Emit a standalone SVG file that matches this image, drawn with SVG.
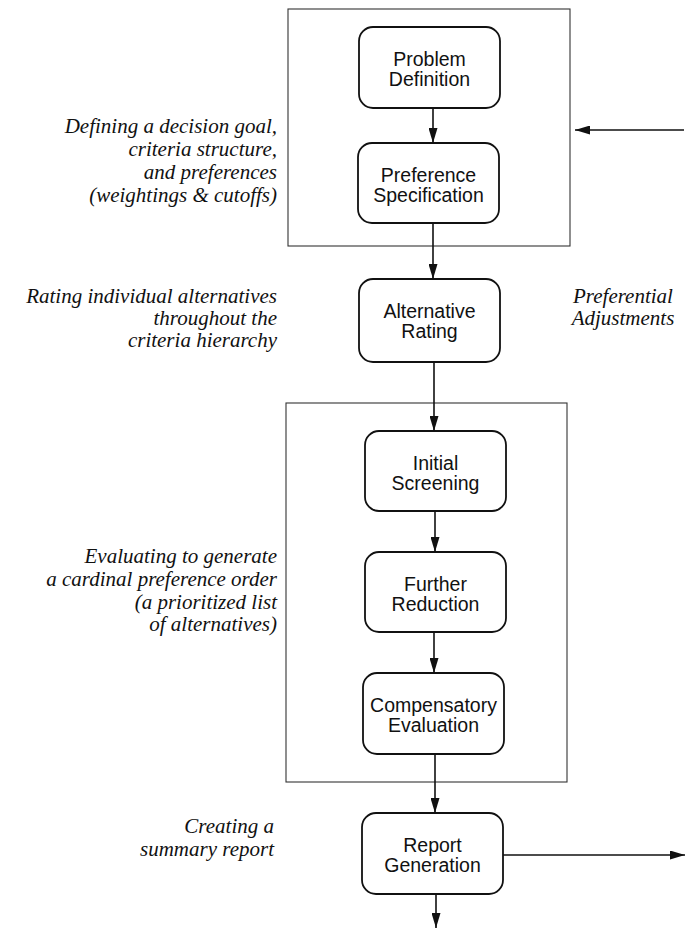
<svg xmlns="http://www.w3.org/2000/svg" width="685" height="929" viewBox="0 0 685 929">
<style>
.node rect{fill:#fff;stroke:#111;stroke-width:1.8}
.node text{font-family:"Liberation Sans",Arial,sans-serif;font-size:19.5px;fill:#111;text-anchor:middle}
.group{fill:none;stroke:#333;stroke-width:1.1}
.lbl{font-family:"Liberation Serif","Times New Roman",serif;font-style:italic;font-size:21px;fill:#111;text-anchor:end}
.lblc{font-family:"Liberation Serif","Times New Roman",serif;font-style:italic;font-size:21px;fill:#111;text-anchor:middle}
.conn line{stroke:#111;stroke-width:1.6}
</style>
<defs>
<marker id="ah" viewBox="0 0 15 9" refX="15" refY="4.5" markerWidth="15" markerHeight="9" markerUnits="userSpaceOnUse" orient="auto">
<path d="M0,0 L15,4.5 L0,9 Z" fill="#111"/>
</marker>
</defs>
<rect class="group" x="288" y="9" width="282" height="237"/>
<rect class="group" x="286" y="403" width="281" height="379"/>
<g id="problem-definition" class="node"><rect x="359" y="27" width="141" height="81" rx="14"/><text x="429.5" y="66">Problem</text><text x="429.5" y="86">Definition</text></g>
<g id="preference-specification" class="node"><rect x="358" y="143" width="141" height="80" rx="14"/><text x="428.5" y="182">Preference</text><text x="428.5" y="202">Specification</text></g>
<g id="alternative-rating" class="node"><rect x="359" y="279" width="141" height="83" rx="14"/><text x="429.5" y="318">Alternative</text><text x="429.5" y="338">Rating</text></g>
<g id="initial-screening" class="node"><rect x="365" y="431" width="141" height="80" rx="14"/><text x="435.5" y="470">Initial</text><text x="435.5" y="490">Screening</text></g>
<g id="further-reduction" class="node"><rect x="365" y="552" width="141" height="80" rx="14"/><text x="435.5" y="591">Further</text><text x="435.5" y="611">Reduction</text></g>
<g id="compensatory-evaluation" class="node"><rect x="363" y="673" width="141" height="81" rx="14"/><text x="433.5" y="712">Compensatory</text><text x="433.5" y="732">Evaluation</text></g>
<g id="report-generation" class="node"><rect x="362" y="813" width="141" height="81" rx="14"/><text x="432.5" y="852">Report</text><text x="432.5" y="872">Generation</text></g>
<g id="connectors" class="conn">
<line x1="433" y1="108" x2="433" y2="143" marker-end="url(#ah)"/>
<line x1="433" y1="223" x2="433" y2="279" marker-end="url(#ah)"/>
<line x1="434" y1="362" x2="434" y2="431" marker-end="url(#ah)"/>
<line x1="435" y1="511" x2="435" y2="552" marker-end="url(#ah)"/>
<line x1="434" y1="632" x2="434" y2="673" marker-end="url(#ah)"/>
<line x1="435" y1="754" x2="435" y2="813" marker-end="url(#ah)"/>
<line x1="436" y1="894" x2="436" y2="928" marker-end="url(#ah)"/>
<line x1="503" y1="855" x2="685" y2="855" marker-end="url(#ah)"/>
<line x1="684" y1="130" x2="575" y2="130" marker-end="url(#ah)"/>
</g>
<g id="labels">
<text class="lbl"><tspan x="277" y="133">Defining a decision goal,</tspan><tspan x="277" y="156">criteria structure,</tspan><tspan x="277" y="179">and preferences</tspan><tspan x="277" y="202">(weightings &amp; cutoffs)</tspan></text>
<text class="lbl"><tspan x="277" y="303">Rating individual alternatives</tspan><tspan x="277" y="325">throughout the</tspan><tspan x="277" y="347">criteria hierarchy</tspan></text>
<text class="lbl"><tspan x="277" y="563">Evaluating to generate</tspan><tspan x="277" y="586">a cardinal preference order</tspan><tspan x="277" y="609">(a prioritized list</tspan><tspan x="277" y="631">of alternatives)</tspan></text>
<text class="lbl"><tspan x="274" y="833">Creating a</tspan><tspan x="274" y="856">summary report</tspan></text>
<text class="lblc"><tspan x="623" y="303">Preferential</tspan><tspan x="623" y="325">Adjustments</tspan></text>
</g>
</svg>
